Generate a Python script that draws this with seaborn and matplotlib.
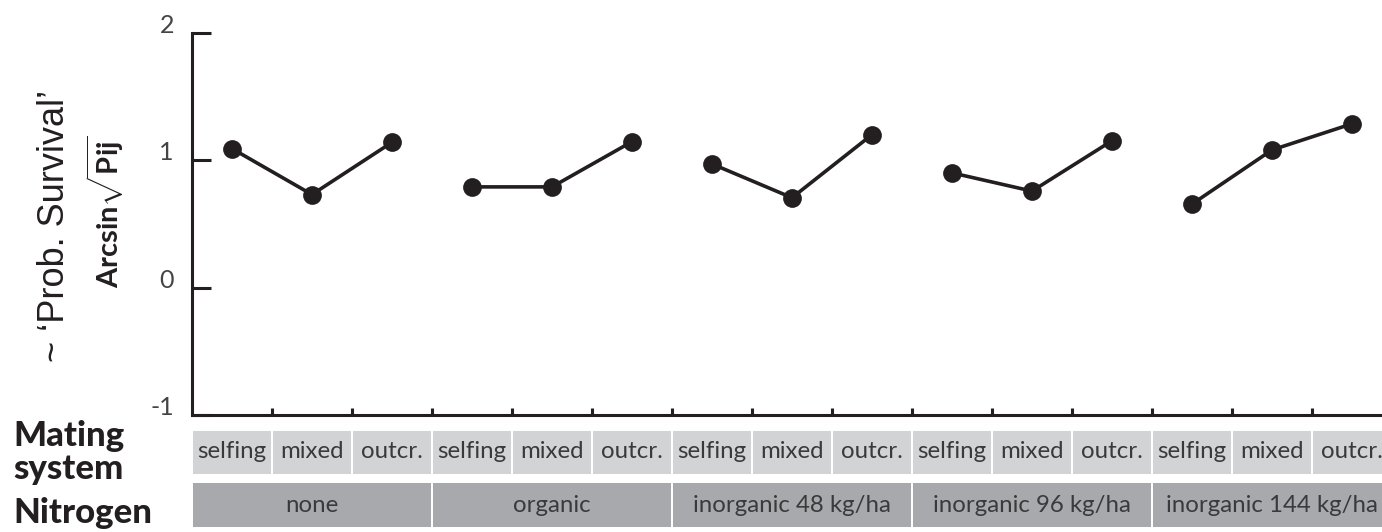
import matplotlib
matplotlib.use("Agg")
import matplotlib.pyplot as plt
from matplotlib.patches import Rectangle
from matplotlib.transforms import blended_transform_factory
import numpy as np
import pandas as pd
import seaborn as sns

# Mating-system categories and nitrogen treatments
mating = ["selfing", "mixed", "outcr."]
nitrogen = ["none", "organic", "inorganic 48 kg/ha", "inorganic 96 kg/ha", "inorganic 144 kg/ha"]

# Arcsin-sqrt transformed survival, one list per nitrogen treatment (selfing, mixed, outcr.)
surv_none = [1.09, 0.73, 1.14]
surv_organic = [0.79, 0.79, 1.145]
surv_inorg48 = [0.97, 0.705, 1.20]
surv_inorg96 = [0.90, 0.757, 1.152]
surv_inorg144 = [0.655, 1.08, 1.285]

yticks = [-1, 0, 1, 2]

sns.set_theme(style="white")
plt.rcParams["font.family"] = ["Lato", "DejaVu Sans"]
plt.rcParams["mathtext.fontset"] = "custom"
plt.rcParams["mathtext.rm"] = "Lato"
plt.rcParams["mathtext.bf"] = "Lato:bold"

INK = "#231f20"
TXT = "#3a3a3c"
LIGHT = "#d1d3d4"
DARK = "#a7a9ac"

series = [surv_none, surv_organic, surv_inorg48, surv_inorg96, surv_inorg144]
rows = []
for g, (treat, vals) in enumerate(zip(nitrogen, series)):
    for m, (ms, v) in enumerate(zip(mating, vals)):
        rows.append({"pos": g * len(mating) + m, "value": v, "nitrogen": treat, "mating": ms})
df = pd.DataFrame(rows)

W, H = 1382, 532
fig = plt.figure(figsize=(W / 100, H / 100), dpi=100)
ax = fig.add_axes([192 / W, 1 - 415 / H, 1 - 192 / W, (415 - 32.7) / H])

sns.lineplot(data=df, x="pos", y="value", hue="nitrogen", hue_order=nitrogen,
             palette=[INK] * len(nitrogen), marker="o", markersize=13.5,
             markeredgewidth=0, linewidth=2.6, legend=False, ax=ax)

n = len(df)
ax.set_xlim(-0.5, -0.5 + (W - 192) / 80)
ax.set_ylim(-1, 2)

# axes styling
for side in ["top", "right"]:
    ax.spines[side].set_visible(False)
for side in ["left", "bottom"]:
    ax.spines[side].set_color(INK)
    ax.spines[side].set_linewidth(2.2)
ax.set_yticks(yticks)
ax.set_yticklabels([str(t) for t in yticks])
ax.tick_params(axis="y", which="major", left=True, direction="in", length=14,
               width=2.2, color=INK, labelsize=18, labelcolor="#444446", pad=13)
for lab in ax.get_yticklabels():
    lab.set_verticalalignment("baseline")
ax.set_xticks(np.arange(n - 1) + 0.5)
ax.set_xticklabels([])
ax.tick_params(axis="x", which="major", bottom=True, direction="in", length=5,
               width=2.2, color=INK)
ax.set_xlabel("")
ax.set_ylabel("")

# category bars below the axis
tr = blended_transform_factory(ax.transData, fig.transFigure)
gap = 0.016
for i, row in df.iterrows():
    x0 = row["pos"] - 0.5 + gap
    ax.add_patch(Rectangle((x0, 1 - 474 / H), 1 - 2 * gap, 43 / H, transform=tr,
                           facecolor=LIGHT, edgecolor="none", clip_on=False))
    ax.text(row["pos"], 1 - 452 / H, row["mating"], transform=tr, ha="center",
            va="center", fontsize=17.3, color=TXT, clip_on=False)
k = len(mating)
for g, treat in enumerate(nitrogen):
    x0 = g * k - 0.5 + gap
    ax.add_patch(Rectangle((x0, 1 - 527 / H), k - 2 * gap, 44 / H, transform=tr,
                           facecolor=DARK, edgecolor="none", clip_on=False))
    ax.text(g * k + (k - 1) / 2, 1 - 505 / H, treat, transform=tr, ha="center",
            va="center", fontsize=17.3, color=TXT, clip_on=False)

# row headings
fig.text(13 / W, 1 - 436 / H, "Mating", fontsize=25, fontweight="black",
         color=INK, ha="left", va="center")
fig.text(13 / W, 1 - 469 / H, "system", fontsize=25, fontweight="black",
         color=INK, ha="left", va="center")
fig.text(13 / W, 1 - 513 / H, "Nitrogen", fontsize=25, fontweight="black",
         color=INK, ha="left", va="center")

# y-axis titles
fig.text(55 / W, 1 - 226 / H, "~ \u2018Prob. Survival\u2019", rotation=90,
         fontsize=26, color=INK, ha="center", va="center",
         family=["Liberation Sans", "DejaVu Sans"])
fig.text(105 / W, 1 - 212 / H, r"$\mathbf{Arcsin}\sqrt{\mathbf{Pij}}$", rotation=90,
         fontsize=21, color=INK, ha="center", va="center")

fig.savefig("out.png", dpi=100)
